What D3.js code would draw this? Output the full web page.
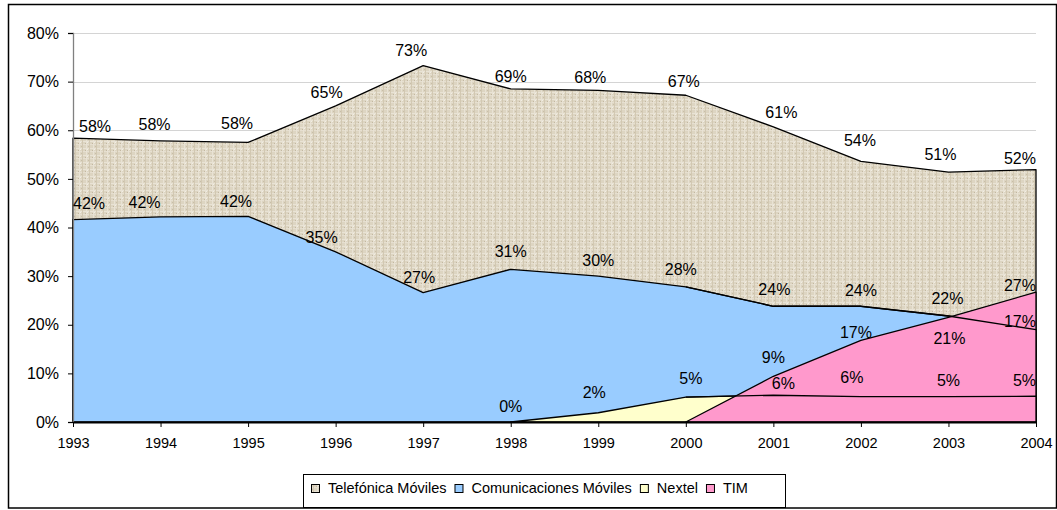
<!DOCTYPE html>
<html>
<head>
<meta charset="utf-8">
<script src="https://cdn.jsdelivr.net/npm/d3@7"></script>
<style>
  body { margin: 0; background: #fff; }
  svg { display: block; font-family: "Liberation Sans", Arial, sans-serif; }
  .axisY text { font-size: 16px; fill: #000; }
  .axisX text { font-size: 14.5px; fill: #000; }
  .lbl { font-size: 16px; fill: #000; }
  .legend text { font-size: 14.5px; fill: #000; }
</style>
</head>
<body>
<svg class="chart" width="1057" height="510"></svg>
<script>
const years = [1993, 1994, 1995, 1996, 1997, 1998, 1999, 2000, 2001, 2002, 2003, 2004]
const telefonica = [58.4, 57.8, 57.5, 65.0, 73.3, 68.5, 68.2, 67.2, 60.7, 53.6, 51.4, 51.9]
const comunicaciones = [41.6, 42.2, 42.3, 35.0, 26.6, 31.4, 30.0, 27.8, 23.8, 23.8, 21.8, 19.0]
const nextel = [null, null, null, null, null, 0, 1.9, 5.1, 5.5, 5.2, 5.2, 5.3]
const tim = [null, null, null, null, null, null, null, 0, 9.4, 16.8, 21.5, 26.7]

const telefonicaLabels = ['58%', '58%', '58%', '65%', '73%', '69%', '68%', '67%', '61%', '54%', '51%', '52%']
const comunicacionesLabels = ['42%', '42%', '42%', '35%', '27%', '31%', '30%', '28%', '24%', '24%', '22%', '17%']
const nextelLabels = [null, null, null, null, null, '0%', '2%', '5%', '6%', '6%', '5%', '5%']
const timLabels = [null, null, null, null, null, null, null, null, '9%', '17%', '21%', '27%']

const yTicks = [0, 10, 20, 30, 40, 50, 60, 70, 80]

const series = [
  { key: 'tel', name: 'Telefónica Móviles', values: telefonica, labels: telefonicaLabels, fill: 'url(#burlap)' },
  { key: 'com', name: 'Comunicaciones Móviles', values: comunicaciones, labels: comunicacionesLabels, fill: '#99ccff' },
  { key: 'nex', name: 'Nextel', values: nextel, labels: nextelLabels, fill: '#ffffcc' },
  { key: 'tim', name: 'TIM', values: tim, labels: timLabels, fill: '#ff99cc' }
]

// hand placed label offsets (dx, dy of text centre from the point)
const nudge = {
  'tel-1993': [22, -12], 'tel-1994': [-6, -17], 'tel-1995': [-11, -19], 'tel-1996': [-9, -14],
  'tel-1997': [-12, -15], 'tel-1998': [0, -13], 'tel-1999': [-8, -13], 'tel-2000': [-2, -14],
  'tel-2001': [8, -14], 'tel-2002': [-1, -21], 'tel-2003': [-8, -18], 'tel-2004': [0, -11],
  'com-1994': [-16, -14], 'com-1995': [-12, -15], 'com-1996': [-14, -14], 'com-1997': [-4, -15],
  'com-1998': [0, -18], 'com-2000': [-5, -17], 'com-2001': [1, -17], 'com-2003': [-1, -18], 'com-2004': [0, -8],
  'nex-1999': [-4, -20], 'nex-2000': [5, -19], 'nex-2001': [10, -12], 'nex-2002': [-9, -19],
  'tim-2001': [0, -19], 'tim-2002': [-5, -8], 'tim-2003': [1, 21], 'tim-2004': [0, -7]
}

const plotLeft = 73
const plotRight = 1036
const plotTop = 33
const plotBottom = 422

const x = d3.scaleLinear().domain([1993, 2004]).range([plotLeft, plotRight])
const y = d3.scaleLinear().domain([0, 80]).range([plotBottom, plotTop])

const chart = d3.select('.chart')

// burlap texture for Telefónica
const defs = chart.append('defs')
const pat = defs.append('pattern').attr('id', 'burlap')
  .attr('patternUnits', 'userSpaceOnUse').attr('width', 7).attr('height', 7)
pat.append('rect').attr('width', 7).attr('height', 7).attr('fill', '#ddd5c2')
pat.append('rect').attr('x', 0).attr('y', 1).attr('width', 7).attr('height', 1).attr('fill', '#e9e3d5')
pat.append('rect').attr('x', 0).attr('y', 4).attr('width', 7).attr('height', 1).attr('fill', '#e6dfd0')
pat.append('rect').attr('x', 2).attr('y', 0).attr('width', 1).attr('height', 7).attr('fill', '#e8e2d4')
pat.append('rect').attr('x', 5).attr('y', 0).attr('width', 1).attr('height', 7).attr('fill', '#d2c8b2')
pat.append('rect').attr('x', 1).attr('y', 3).attr('width', 1).attr('height', 1).attr('fill', '#c2b7a0')
pat.append('rect').attr('x', 4).attr('y', 6).attr('width', 1).attr('height', 1).attr('fill', '#c8bea8')
pat.append('rect').attr('x', 3).attr('y', 2).attr('width', 1).attr('height', 1).attr('fill', '#f1ede3')

// outer frame
chart.append('rect')
  .attr('x', 8.5).attr('y', 4.5).attr('width', 1048).attr('height', 503.5)
  .attr('fill', 'none').attr('stroke', '#000').attr('stroke-width', 1.5)

// gridlines
chart.append('g').attr('class', 'grid')
  .selectAll('line')
  .data(yTicks.filter(t => t > 0))
  .enter()
  .append('line')
  .attr('x1', plotLeft).attr('x2', plotRight)
  .attr('y1', t => Math.round(y(t)) + 0.5).attr('y2', t => Math.round(y(t)) + 0.5)
  .attr('stroke', '#d4d4d4')

const area = d3.area()
  .defined(d => d.v !== null)
  .x(d => x(d.year))
  .y0(y(0))
  .y1(d => y(d.v))

const line = d3.line()
  .defined(d => d.v !== null)
  .x(d => x(d.year))
  .y(d => y(d.v))

const rows = s => years.map((year, i) => ({ year, v: s.values[i], label: s.labels[i] }))

const areas = chart.append('g').attr('class', 'areas')
series.forEach((s) => {
  areas.append('path')
    .attr('d', area(rows(s)))
    .attr('fill', s.fill)
    .attr('stroke', '#000')
    .attr('stroke-width', 1.3)
    .attr('stroke-linejoin', 'round')
})

// top edges of the covered series stay visible over TIM
series.filter(s => s.key === 'com' || s.key === 'nex').forEach((s) => {
  areas.append('path')
    .attr('d', line(rows(s).filter(d => d.year >= 2000)))
    .attr('fill', 'none')
    .attr('stroke', '#000')
    .attr('stroke-width', 1.3)
})

// axes
const yAxis = chart.append('g').attr('class', 'axisY')
  .attr('transform', `translate(${plotLeft},0)`)
  .call(d3.axisLeft(y).tickValues(yTicks).tickFormat(d => d + '%').tickSize(5).tickPadding(9))
yAxis.select('.domain').attr('stroke', '#808080').attr('stroke-width', 1.3)
yAxis.selectAll('.tick line').attr('stroke', '#000')

const xAxis = chart.append('g').attr('class', 'axisX')
  .attr('transform', `translate(0,${plotBottom})`)
  .call(d3.axisBottom(x).tickValues(years).tickFormat(d3.format('d')).tickSize(5).tickPadding(11).tickSizeOuter(0))
xAxis.select('.domain').attr('stroke', '#000').attr('stroke-width', 2)
xAxis.selectAll('.tick line').attr('stroke', '#000')

// data labels
const labels = chart.append('g').attr('class', 'labels')
series.forEach((s) => {
  rows(s).filter(d => d.label).forEach((d) => {
    const [dx, dy] = nudge[`${s.key}-${d.year}`] || [0, -16]
    const t = labels.append('text')
      .attr('class', 'lbl')
      .attr('text-anchor', 'middle')
      .attr('dy', '0.35em')
      .attr('y', y(d.v) + dy)
      .text(d.label)
    const w = t.node().getComputedTextLength()
    const cx = Math.max(plotLeft + w / 2, Math.min(plotRight - w / 2, x(d.year) + dx))
    t.attr('x', cx)
  })
})

// legend
const legend = chart.append('g').attr('class', 'legend')
legend.append('rect')
  .attr('x', 303.5).attr('y', 474.5).attr('width', 482).attr('height', 33)
  .attr('fill', '#fff').attr('stroke', '#000')
let lx = 311
series.forEach((s) => {
  legend.append('rect')
    .attr('x', lx + 0.5).attr('y', 484.5).attr('width', 8).attr('height', 8)
    .attr('fill', s.fill).attr('stroke', '#000')
  const t = legend.append('text')
    .attr('x', lx + 17).attr('y', 488).attr('dy', '0.35em')
    .text(s.name)
  lx += 17 + t.node().getComputedTextLength() + 8
})
</script>
</body>
</html>
